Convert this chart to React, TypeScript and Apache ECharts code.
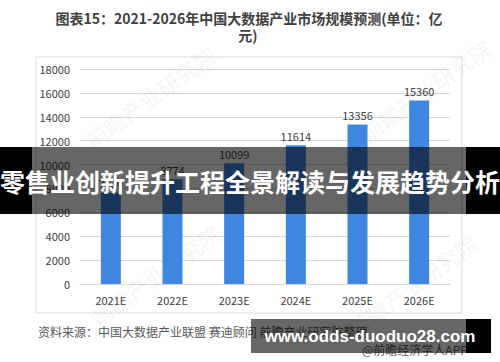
import React, { useEffect, useRef } from "react";
import * as echarts from "echarts";

const categories = ["2021E", "2022E", "2023E", "2024E", "2025E", "2026E"];
const marketSize = [7630, 8774, 10099, 11614, 13356, 15360];
const titleLine1 = "图表15：2021-2026年中国大数据产业市场规模预测(单位：亿";
const titleLine2 = "元)";
const sourceText = "资料来源：中国大数据产业联盟 赛迪顾问 前瞻产业研究院整理";
const bannerText = "零售业创新提升工程全景解读与发展趋势分析";
const siteText = "www.odds-duoduo28.com";
const appText = "@前瞻经济学人APP";
const watermarkText = "前瞻产业研究院";

const FONT = "'Noto Sans CJK SC', 'Noto Sans', sans-serif";

const watermarkAt = (x: number, y: number) => ({
  type: "text",
  z: 1,
  x,
  y,
  rotation: Math.PI / 5,
  silent: true,
  style: {
    text: watermarkText,
    fill: "rgba(0,0,0,0.045)",
    font: `bold 22px ${FONT}`,
    align: "center",
    verticalAlign: "middle",
  },
});

export default function App() {
  const ref = useRef<HTMLDivElement>(null);
  useEffect(() => {
    document.body.style.margin = "0";
    if (!ref.current) return;
    const chart = echarts.init(ref.current, null, { renderer: "svg" });
    chart.setOption({
      animation: false,
      backgroundColor: "#ffffff",
      textStyle: { fontFamily: FONT },
      grid: { left: 80, right: 50, top: 69, bottom: 78 },
      xAxis: {
        type: "category",
        data: categories,
        axisLine: { lineStyle: { color: "#d9d9d9" } },
        axisTick: { show: false },
        axisLabel: { color: "#404040", fontSize: 11, margin: 10, fontFamily: FONT },
      },
      yAxis: {
        type: "value",
        min: 0,
        max: 18000,
        interval: 2000,
        axisLine: { show: false },
        axisTick: { show: false },
        axisLabel: {
          color: "#404040",
          fontSize: 11,
          margin: 10,
          fontFamily: FONT,
          formatter: (v: number) => String(v),
        },
        splitLine: { lineStyle: { color: "#d9d9d9" } },
      },
      series: [
        {
          type: "bar",
          data: marketSize,
          barWidth: 20,
          itemStyle: { color: "#3f86e0" },
          label: {
            show: true,
            position: "top",
            color: "#404040",
            fontSize: 11,
            fontFamily: FONT,
            distance: 4,
          },
        },
      ],
      graphic: [
        {
          type: "rect",
          z: -10,
          shape: { x: 36, y: 57, width: 426, height: 256 },
          style: { fill: "none", stroke: "#d9d9d9", lineWidth: 1 },
        },
        watermarkAt(150, 97),
        watermarkAt(155, 275),
        watermarkAt(425, 90),
        watermarkAt(412, 285),
        {
          type: "text",
          x: 249,
          y: 18,
          style: {
            text: titleLine1,
            fill: "#404040",
            font: `bold 14px ${FONT}`,
            align: "center",
            verticalAlign: "middle",
          },
        },
        {
          type: "text",
          x: 248,
          y: 35,
          style: {
            text: titleLine2,
            fill: "#404040",
            font: `bold 14px ${FONT}`,
            align: "center",
            verticalAlign: "middle",
          },
        },
        {
          type: "text",
          x: 38,
          y: 331,
          style: {
            text: sourceText,
            fill: "#595959",
            font: `12px ${FONT}`,
            align: "left",
            verticalAlign: "middle",
          },
        },
        {
          type: "text",
          x: 362,
          y: 349,
          style: {
            text: appText,
            fill: "#595959",
            font: `12px ${FONT}`,
            align: "left",
            verticalAlign: "middle",
          },
        },
        // banner overlay
        {
          type: "rect",
          z: 100,
          shape: { x: 0, y: 147, width: 32, height: 67 },
          style: { fill: "#000000" },
        },
        {
          type: "rect",
          z: 100,
          shape: { x: 466, y: 147, width: 34, height: 67 },
          style: { fill: "#000000" },
        },
        {
          type: "rect",
          z: 100,
          shape: { x: 32, y: 147, width: 434, height: 67 },
          style: { fill: "rgba(0,0,0,0.6)" },
        },
        {
          type: "text",
          z: 101,
          x: 250,
          y: 181,
          style: {
            text: bannerText,
            fill: "#ffffff",
            font: `bold 25px ${FONT}`,
            align: "center",
            verticalAlign: "middle",
          },
        },
        // bottom site overlay
        {
          type: "rect",
          z: 100,
          shape: { x: 251, y: 319, width: 215, height: 34 },
          style: { fill: "rgba(0,0,0,0.6)" },
        },
        {
          type: "rect",
          z: 100,
          shape: { x: 466, y: 319, width: 25, height: 34 },
          style: { fill: "#000000" },
        },
        {
          type: "text",
          z: 101,
          x: 370,
          y: 336,
          style: {
            text: siteText,
            fill: "#ffffff",
            font: `bold 17px 'Liberation Sans', Arial, sans-serif`,
            align: "center",
            verticalAlign: "middle",
          },
        },
      ],
    });
    return () => chart.dispose();
  }, []);
  return <div ref={ref} style={{ width: 500, height: 362 }} />;
}
